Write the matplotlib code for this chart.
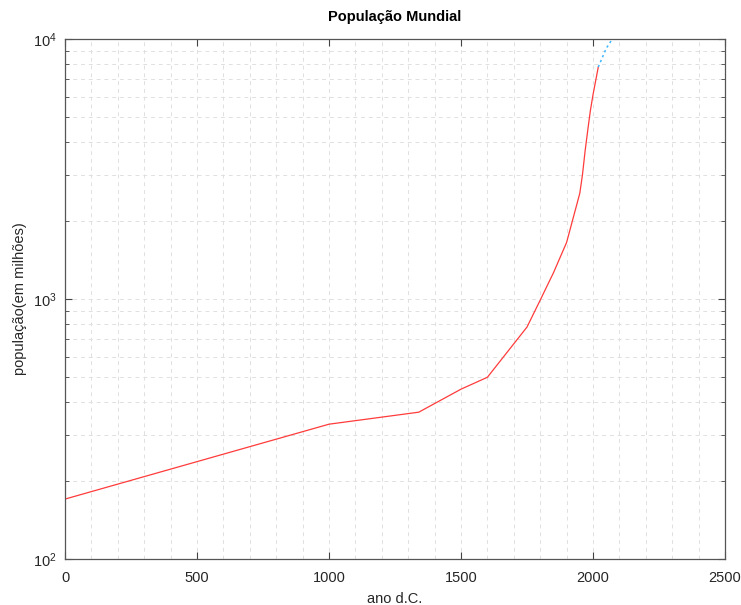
import matplotlib
matplotlib.use("Agg")
import matplotlib.pyplot as plt
from matplotlib.ticker import MultipleLocator, LogLocator, NullFormatter

# dados históricos (milhões)
anos = [0, 1000, 1340, 1500, 1600, 1750, 1800, 1850, 1900, 1950,
        1960, 1970, 1980, 1990, 2000, 2010, 2020]
populacao = [170, 330, 367, 450, 500, 780, 990, 1260, 1650, 2550,
             3000, 3700, 4450, 5300, 6100, 6900, 7800]

# projeção
anos_proj = [2020, 2050, 2100]
pop_proj = [7800, 9200, 11000]

plt.rcParams['font.family'] = ['Liberation Sans', 'DejaVu Sans']

fig = plt.figure(figsize=(7.41, 6.05), dpi=100)
ax = fig.add_axes([65 / 741, 1 - 559 / 605, 660 / 741, 520 / 605])

ax.plot(anos, populacao, color='#ff3b3b', linewidth=0.9)
ax.plot(anos_proj, pop_proj, color='#3bb6ff', linewidth=1.1, linestyle=(0, (1.5, 2)))

ax.set_yscale('log')
ax.set_xlim(0, 2500)
ax.set_ylim(100, 10000)

ax.xaxis.set_major_locator(MultipleLocator(500))
ax.xaxis.set_minor_locator(MultipleLocator(100))
ax.yaxis.set_major_locator(LogLocator(base=10))
ax.yaxis.set_minor_locator(LogLocator(base=10, subs=range(2, 10)))
ax.yaxis.set_minor_formatter(NullFormatter())

ax.grid(True, which='both', color='#e0e0e0', linestyle=(0, (4, 4)), linewidth=0.7)
ax.set_axisbelow(True)

ax.tick_params(which='both', direction='in', top=True, right=True,
               colors='#444444', labelcolor='#262626', labelsize=10.5)
ax.tick_params(axis='x', which='major', pad=9)
ax.tick_params(axis='y', which='major', pad=6)
ax.tick_params(which='major', length=5)
ax.tick_params(axis='y', which='minor', length=3)
ax.tick_params(axis='x', which='minor', length=0)
for s in ax.spines.values():
    s.set_color('#555555')
    s.set_linewidth(0.9)

ax.set_title('População Mundial', fontsize=10.5, fontweight='bold', pad=13)
ax.set_xlabel('ano d.C.', fontsize=10.5, color='#262626', labelpad=5)
ax.set_ylabel('população(em milhões)', fontsize=10.5, color='#262626')
ax.yaxis.set_label_coords(-0.058, 0.5)

fig.savefig('out.png', dpi=100)
